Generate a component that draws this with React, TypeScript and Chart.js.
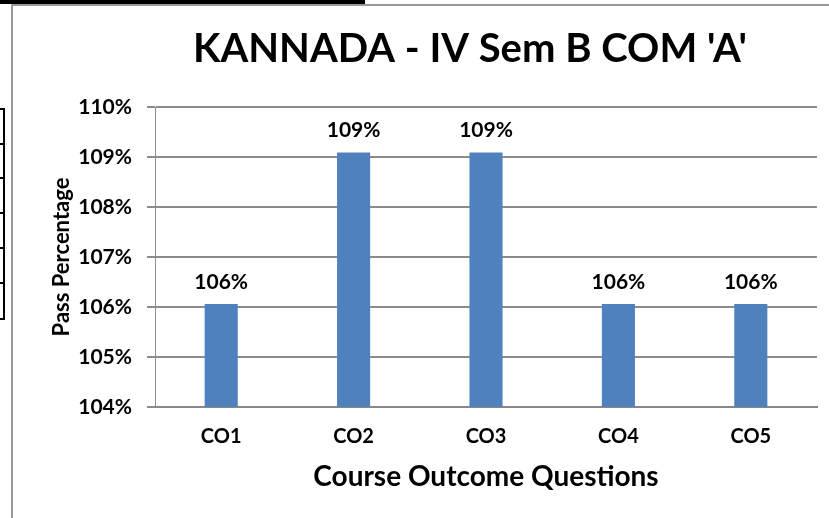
import React, { useEffect, useRef } from "react";
import { Chart, registerables } from "chart.js";

Chart.register(...registerables);

const categories = ["CO1", "CO2", "CO3", "CO4", "CO5"];
const passValues = [106.06, 109.09, 109.09, 106.06, 106.06];
const valueLabels = ["106%", "109%", "109%", "106%", "106%"];
const yTicks = [104, 105, 106, 107, 108, 109, 110];
const chartTitle = "KANNADA - IV Sem B COM 'A'";

const FONT = "Lato, 'Open Sans', sans-serif";

const labelPlugin = {
  id: "barLabels",
  afterDatasetsDraw(chart: any) {
    const ctx = chart.ctx;
    const meta = chart.getDatasetMeta(0);
    ctx.save();
    ctx.font = `bold 21px ${FONT}`;
    ctx.fillStyle = "#000";
    ctx.textAlign = "center";
    ctx.textBaseline = "middle";
    meta.data.forEach((bar: any, i: number) => {
      ctx.fillText(valueLabels[i], bar.x, bar.y - 22);
    });
    ctx.restore();
  },
};

const titlePlugin = {
  id: "offsetTitle",
  afterDraw(chart: any) {
    const ctx = chart.ctx;
    ctx.save();
    ctx.font = `bold 40px ${FONT}`;
    ctx.fillStyle = "#000";
    ctx.textAlign = "center";
    ctx.textBaseline = "middle";
    ctx.fillText(chartTitle, 470, 49);
    ctx.restore();
  },
};

export default function App() {
  const ref = useRef<HTMLCanvasElement>(null);
  useEffect(() => {
    document.body.style.margin = "0";
    const chart = new Chart(ref.current!, {
      type: "bar",
      data: {
        labels: categories,
        datasets: [
          {
            data: passValues,
            backgroundColor: "#4F81BD",
            categoryPercentage: 1,
            barPercentage: 0.25,
          },
        ],
      },
      options: {
        animation: false,
        responsive: false,
        layout: { padding: { top: 107, right: 12, left: 12, bottom: 0 } },
        plugins: {
          legend: { display: false },
          tooltip: { enabled: false },
          title: { display: false },
        },
        scales: {
          x: {
            grid: { display: false, drawTicks: false },
            border: { color: "#888", width: 2 },
            ticks: {
              color: "#000",
              font: { family: FONT, size: 20, weight: "bold" },
              padding: 18,
            },
            title: {
              display: true,
              text: "Course Outcome Questions",
              color: "#000",
              font: { family: FONT, size: 28, weight: "bold" },
              padding: { top: 10, bottom: 24 },
            },
            afterFit(scale: any) {
              scale.height = 111;
            },
          },
          y: {
            min: 104,
            max: 110,
            afterBuildTicks(scale: any) {
              scale.ticks = yTicks.map((v) => ({ value: v }));
            },
            grid: { color: "#8c8c8c", lineWidth: 2, tickLength: 8 },
            border: { color: "#8c8c8c", width: 1 },
            ticks: {
              color: "#000",
              font: { family: FONT, size: 21, weight: "bold" },
              padding: 15,
              callback: (v: any) => `${v}%`,
            },
            title: {
              display: true,
              text: "Pass Percentage",
              color: "#000",
              font: { family: FONT, size: 22, weight: "bold" },
              padding: { top: 37, bottom: 4 },
            },
            afterFit(scale: any) {
              scale.width = 143;
            },
          },
        },
      },
      plugins: [labelPlugin, titlePlugin],
    });
    return () => chart.destroy();
  }, []);

  const tableLines = [108, 143, 177, 212, 247, 282, 318];
  return (
    <div style={{ position: "relative", width: 829, height: 518, background: "#fff", overflow: "hidden" }}>
      <div style={{ position: "absolute", left: 0, top: 0, width: 365, height: 4, background: "#000" }} />
      <div style={{ position: "absolute", left: 11, top: 4, right: 0, bottom: 0, borderLeft: "2px solid #999", borderTop: "2px solid #999" }} />
      <div style={{ position: "absolute", left: 3, top: 108, width: 2, height: 212, background: "#000" }} />
      {tableLines.map((y) => (
        <div key={y} style={{ position: "absolute", left: 0, top: y, width: 5, height: 2, background: "#000" }} />
      ))}
      <canvas ref={ref} width={829} height={518} style={{ position: "absolute", left: 0, top: 0 }} />
    </div>
  );
}
